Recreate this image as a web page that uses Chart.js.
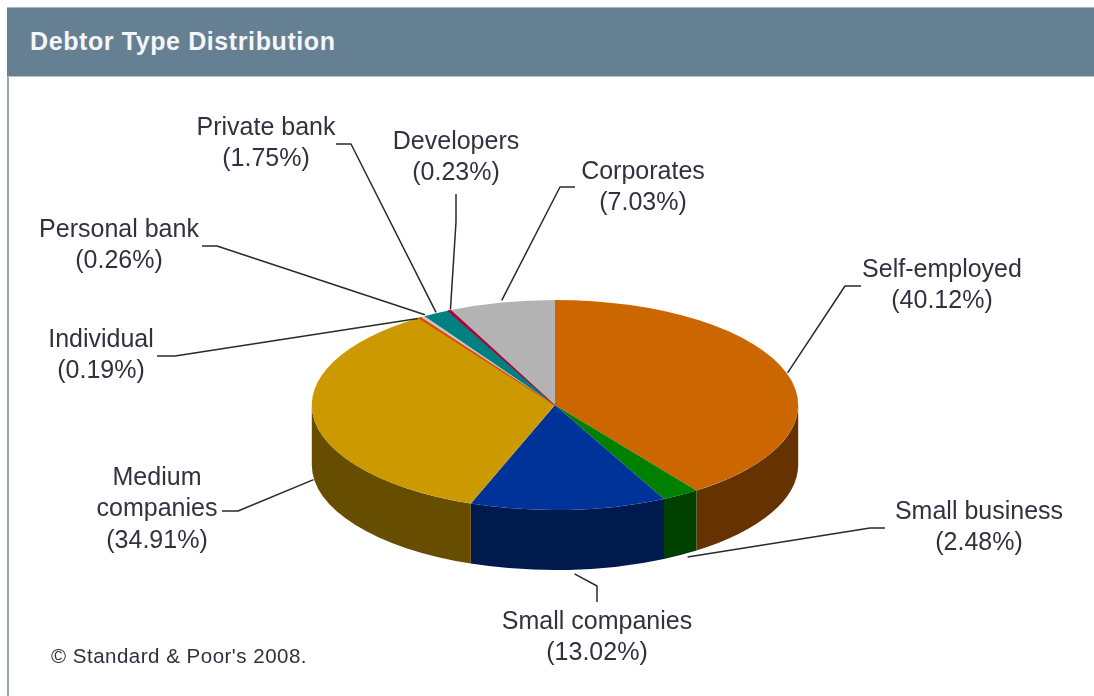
<!DOCTYPE html>
<html><head><meta charset="utf-8">
<style>
html,body{margin:0;padding:0;background:#fff;width:1094px;height:696px;overflow:hidden;font-family:"Liberation Sans",Arial,sans-serif}
#frame{position:absolute;left:7px;top:7px;width:1087px;height:689px;border-left:2px solid #93a8b5;box-sizing:border-box}
#head{position:absolute;left:7px;top:7px;width:1087px;height:70px;background:#668093;border-bottom:1px solid #b5c3cc;border-top:1px solid #a9b9c4;box-sizing:border-box}
#head h1{position:absolute;left:23px;top:19px;margin:0;font:bold 25px "Liberation Sans",Arial,sans-serif;letter-spacing:.6px;color:#f4f6f8;white-space:nowrap}
#copy{position:absolute;left:51px;top:644px;font:20.5px "Liberation Sans",Arial,sans-serif;letter-spacing:.5px;color:#2f2f3f;white-space:nowrap}
canvas{position:absolute;left:0;top:0}
</style></head><body>
<canvas id="c" width="1094" height="696"></canvas>
<div id="frame"></div>
<div id="head"><h1>Debtor Type Distribution</h1></div>
<div id="copy">© Standard &amp; Poor's 2008.</div>
<script src="https://cdn.jsdelivr.net/npm/chart.js@4/dist/chart.umd.js"></script>
<script>
const categories = ["Self-employed","Small business","Small companies","Medium companies","Individual","Personal bank","Private bank","Developers","Corporates"];
const shares = [40.12,2.48,13.02,34.91,0.19,0.26,1.75,0.23,7.03];
const topColors = ["#CC6600","#008000","#003399","#CC9900","#E04A00","#C8C8C8","#008080","#B00038","#B3B3B3"];
const wallColors = ["#663300","#004000","#001A4D","#664D00","#702500","#646464","#004040","#58001C","#5A5A5A"];
const edgeWidths = [0,0,0,0,1.6,0,0,1.4,0];
const labelLines = [
  ["Self-employed"],["Small business"],["Small companies"],["Medium","companies"],
  ["Individual"],["Personal bank"],["Private bank"],["Developers"],["Corporates"]
];
// label block centre x, first-line centre y, leader path from the label end, nudge of the slice anchor
const labelLayout = [
  {x:942,y:270,path:[[861,286],[845,286]],nudge:[1,0]},
  {x:979,y:512,path:[[885,528],[870,528]],nudge:[7,2]},
  {x:597,y:622,path:[[597,602],[597,586]],nudge:[6,4]},
  {x:157,y:478,path:[[222,511],[238,511]],nudge:[0,2]},
  {x:101,y:340,path:[[157,356],[175,356]],nudge:[-2,1]},
  {x:119,y:230,path:[[202,246],[217,246]],nudge:[2,-2]},
  {x:266,y:128,path:[[336,144],[351,144]],nudge:[0,-1]},
  {x:456,y:142,path:[[456,194],[456,222]],nudge:[1,-1]},
  {x:643,y:172,path:[[575,187],[560,187]],nudge:[0,-2]}
];
const squash = 105/243, depth = 60, lineGap = 31.5;
const labelFont = '25px "Liberation Sans", Arial, sans-serif';

const pie3d = {
  id:'pie3d',
  beforeDatasetDraw(chart){
    const ctx = chart.ctx, arcs = chart.getDatasetMeta(0).data;
    ctx.save();
    arcs.forEach((a,i)=>{
      const p = a.getProps(['x','y','startAngle','endAngle','outerRadius'],true);
      const s = Math.max(p.startAngle,0), e = Math.min(p.endAngle,Math.PI);
      if(e<=s) return;
      const ry = p.outerRadius*squash;
      ctx.beginPath();
      ctx.ellipse(p.x,p.y,p.outerRadius,ry,0,s,e,false);
      ctx.ellipse(p.x,p.y+depth,p.outerRadius,ry,0,e,s,true);
      ctx.closePath();
      ctx.fillStyle = wallColors[i];
      ctx.fill();
    });
    const a0 = arcs[0].getProps(['x','y'],true);
    ctx.translate(a0.x,a0.y); ctx.scale(1,squash); ctx.translate(-a0.x,-a0.y);
  },
  afterDatasetDraw(chart){
    const ctx = chart.ctx, arcs = chart.getDatasetMeta(0).data;
    ctx.restore();
    ctx.save();
    ctx.strokeStyle='#2a2a2a'; ctx.lineWidth=1.5; ctx.lineJoin='round';
    ctx.font=labelFont; ctx.textAlign='center'; ctx.textBaseline='middle';
    arcs.forEach((a,i)=>{
      const p = a.getProps(['x','y','startAngle','endAngle','outerRadius'],true);
      const mid=(p.startAngle+p.endAngle)/2, L=labelLayout[i];
      let ax=p.x+p.outerRadius*Math.cos(mid), ay=p.y+p.outerRadius*squash*Math.sin(mid);
      if(Math.sin(mid)>0) ay+=depth;
      ax+=L.nudge[0]; ay+=L.nudge[1];
      ctx.beginPath();
      ctx.moveTo(L.path[0][0],L.path[0][1]);
      ctx.lineTo(L.path[1][0],L.path[1][1]);
      ctx.lineTo(ax,ay);
      ctx.stroke();
      const lines=[...labelLines[i],"("+shares[i].toFixed(2)+"%)"];
      ctx.fillStyle='#33303f';
      lines.forEach((t,k)=>ctx.fillText(t,L.x,L.y+k*lineGap));
    });
    ctx.restore();
  }
};

new Chart(document.getElementById('c'),{
  type:'pie',
  data:{labels:categories,datasets:[{data:shares,backgroundColor:topColors,borderColor:topColors,borderWidth:edgeWidths,borderAlign:'center',clip:false}]},
  options:{
    responsive:false,animation:false,
    layout:{padding:{left:311,right:295,top:161,bottom:47}},
    plugins:{legend:{display:false},tooltip:{enabled:false},title:{display:false}}
  },
  plugins:[pie3d]
});
</script>
</body></html>
